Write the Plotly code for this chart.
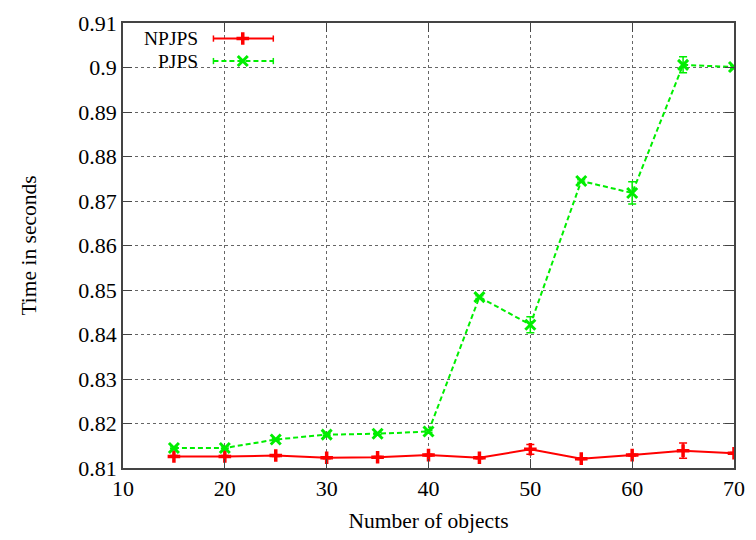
import plotly.graph_objects as go

n_objects = [15, 20, 25, 30, 35, 40, 45, 50, 55, 60, 65, 70]
npjps_time = [0.8126, 0.8126, 0.8128, 0.8123, 0.8124, 0.8129, 0.8123, 0.8142, 0.8121, 0.8129, 0.8139, 0.8133]
npjps_err = [0.0002, 0.0002, 0.0002, 0.0002, 0.0002, 0.0002, 0.0002, 0.0011, 0.0002, 0.0002, 0.0017, 0.0002]
pjps_time = [0.8145, 0.8145, 0.8164, 0.8175, 0.8177, 0.8182, 0.8484, 0.8422, 0.8745, 0.8718, 0.9006, 0.9001]
pjps_err = [0.0002, 0.0002, 0.0002, 0.0002, 0.0002, 0.0002, 0.0003, 0.0018, 0.0003, 0.0025, 0.0018, 0.0003]
y_ticks = [0.81, 0.82, 0.83, 0.84, 0.85, 0.86, 0.87, 0.88, 0.89, 0.90, 0.91]
y_ticktext = ["0.81", "0.82", "0.83", "0.84", "0.85", "0.86", "0.87", "0.88", "0.89", "0.9", "0.91"]
x_ticks = [10, 20, 30, 40, 50, 60, 70]
series_names = ["NPJPS", "PJPS"]

RED = "#ff0000"
GREEN = "#00ee00"
FONT = "Liberation Serif, Times New Roman, serif"
GREEN_DASH = "5px,3px"

fig = go.Figure()

fig.add_trace(go.Scatter(
    x=n_objects, y=npjps_time, mode="lines+markers", name=series_names[0],
    line=dict(color=RED, width=2),
    marker=dict(symbol="cross-thin", size=9, line=dict(color=RED, width=3.5)),
    error_y=dict(type="data", array=npjps_err, color=RED, thickness=1.5, width=4),
    showlegend=False,
))
fig.add_trace(go.Scatter(
    x=n_objects, y=pjps_time, mode="lines+markers", name=series_names[1],
    line=dict(color=GREEN, width=2, dash=GREEN_DASH),
    marker=dict(symbol="x-thin", size=10, line=dict(color=GREEN, width=3)),
    error_y=dict(type="data", array=pjps_err, color=GREEN, thickness=1.5, width=4),
    showlegend=False,
))

# custom legend (text left, sample right) on an overlay paper-like axis
leg_y = [0.965, 0.9145]
fig.add_trace(go.Scatter(
    x=[0.148, 0.246], y=[leg_y[0], leg_y[0]], xaxis="x2", yaxis="y2", mode="lines",
    line=dict(color=RED, width=2), showlegend=False, hoverinfo="skip"))
fig.add_trace(go.Scatter(
    x=[0.196], y=[leg_y[0]], xaxis="x2", yaxis="y2", mode="markers",
    marker=dict(symbol="cross-thin", size=9, line=dict(color=RED, width=3.5)),
    showlegend=False, hoverinfo="skip"))
fig.add_trace(go.Scatter(
    x=[0.148, 0.246], y=[leg_y[1], leg_y[1]], xaxis="x2", yaxis="y2", mode="lines",
    line=dict(color=GREEN, width=2, dash=GREEN_DASH), showlegend=False, hoverinfo="skip"))
fig.add_trace(go.Scatter(
    x=[0.196], y=[leg_y[1]], xaxis="x2", yaxis="y2", mode="markers",
    marker=dict(symbol="x-thin", size=10, line=dict(color=GREEN, width=3)),
    showlegend=False, hoverinfo="skip"))

shapes = [
    dict(type="rect", xref="x domain", yref="y domain", x0=0.016, x1=0.265, y0=0.89, y1=0.998,
         fillcolor="white", line=dict(width=0), layer="below"),
]
for yy, col in zip(leg_y, [RED, GREEN]):
    for xx in (0.148, 0.246):
        shapes.append(dict(type="line", xref="x domain", yref="y domain", x0=xx, x1=xx,
                           y0=yy - 0.007, y1=yy + 0.007, line=dict(color=col, width=1.5)))

annotations = []
for name, yy in zip(series_names, leg_y):
    annotations.append(dict(text=name, xref="x domain", yref="y domain", x=0.125, y=yy,
                            xanchor="right", yanchor="middle", showarrow=False, borderpad=0,
                            font=dict(family=FONT, size=19.5, color="black")))

axis_common = dict(
    showline=True, linecolor="#444444", linewidth=1.5, mirror="ticks",
    ticks="inside", ticklen=9, tickcolor="#444444", tickwidth=1,
    showgrid=True, gridcolor="#666666", gridwidth=1, griddash="dot",
    zeroline=False, tickfont=dict(family=FONT, size=22, color="black"),
)

fig.update_layout(
    width=756, height=540,
    margin=dict(l=123, r=11, t=14, b=70),
    paper_bgcolor="white", plot_bgcolor="white",
    xaxis=dict(range=[10, 70], tickvals=x_ticks, **axis_common,
               title=dict(text="Number of objects", font=dict(family=FONT, size=21.5, color="black"), standoff=13)),
    yaxis=dict(range=[0.81, 0.91], tickvals=y_ticks, ticktext=y_ticktext, **axis_common,
               title=dict(text="Time in seconds", font=dict(family=FONT, size=21.5, color="black"), standoff=36)),
    xaxis2=dict(range=[0, 1], overlaying="x", visible=False, fixedrange=True),
    yaxis2=dict(range=[0, 1], overlaying="y", visible=False, fixedrange=True),
    shapes=shapes, annotations=annotations, showlegend=False,
)

fig.write_html("out.html")
